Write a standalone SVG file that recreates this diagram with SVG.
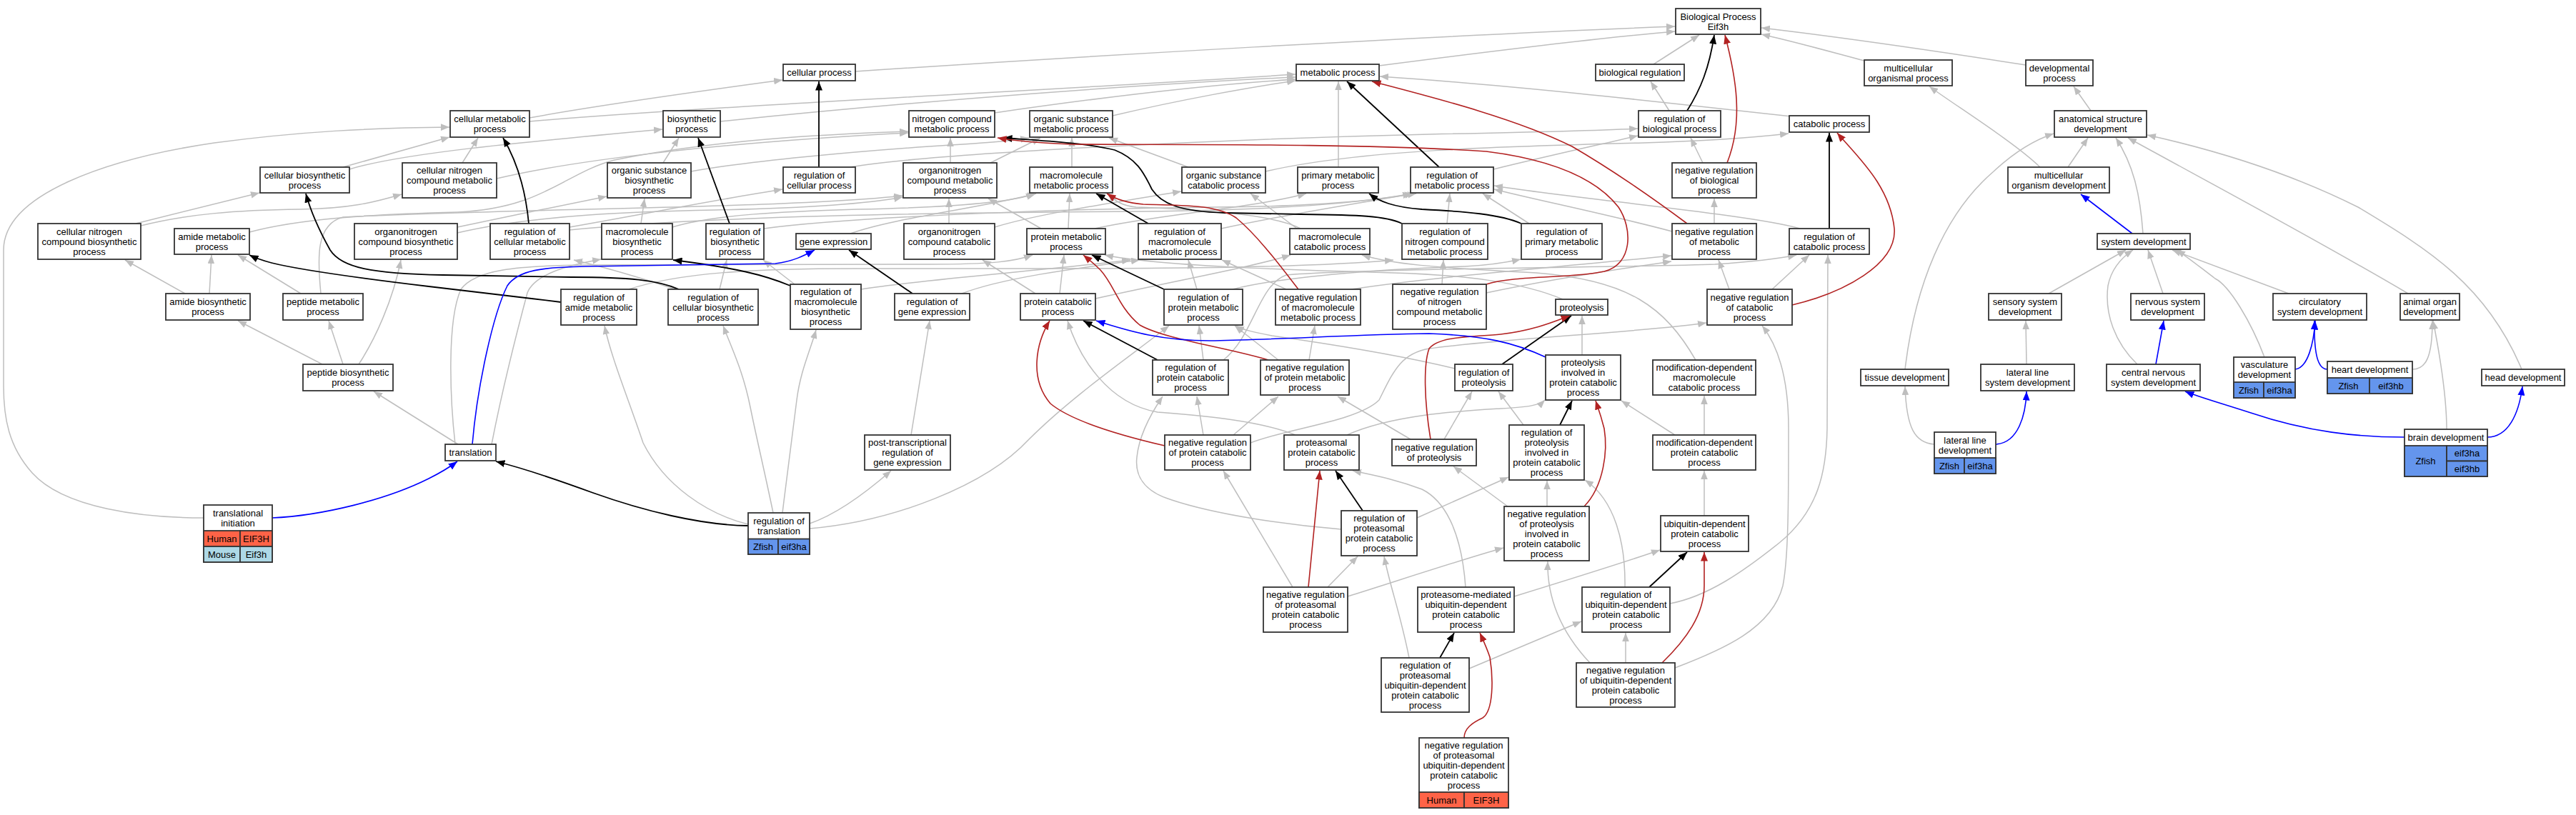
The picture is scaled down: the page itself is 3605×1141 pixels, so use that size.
<svg xmlns="http://www.w3.org/2000/svg" width="3605" height="1141" viewBox="0 0 3605 1141">
<style>
.n rect{fill:#fff;stroke:#333;stroke-width:1.8}
.n rect.hu{fill:#ff6347}
.n rect.mo{fill:#add8e6}
.n rect.zf{fill:#6495ed}
.n text{font-family:"Liberation Sans",Arial,sans-serif;font-size:13px;text-anchor:middle;fill:#000}
#edges path{fill:none}
#edges .g{stroke:#bebebe;stroke-width:1.5;marker-end:url(#ag)}
#edges .k{stroke:#000;stroke-width:1.8;marker-end:url(#ak)}
#edges .r{stroke:#b22222;stroke-width:1.6;marker-end:url(#ar)}
#edges .b{stroke:#0000ff;stroke-width:1.6;marker-end:url(#ab)}
</style>
<defs>
<marker id="ag" viewBox="0 0 10 8" refX="10" refY="4" markerWidth="12" markerHeight="9.6" markerUnits="userSpaceOnUse" orient="auto"><path d="M0,0L10,4L0,8z" fill="#bebebe"/></marker>
<marker id="ak" viewBox="0 0 10 8" refX="10" refY="4" markerWidth="12.5" markerHeight="10" markerUnits="userSpaceOnUse" orient="auto"><path d="M0,0L10,4L0,8z" fill="#000"/></marker>
<marker id="ar" viewBox="0 0 10 8" refX="10" refY="4" markerWidth="12.5" markerHeight="10" markerUnits="userSpaceOnUse" orient="auto"><path d="M0,0L10,4L0,8z" fill="#b22222"/></marker>
<marker id="ab" viewBox="0 0 10 8" refX="10" refY="4" markerWidth="12.5" markerHeight="10" markerUnits="userSpaceOnUse" orient="auto"><path d="M0,0L10,4L0,8z" fill="#0000ff"/></marker>
</defs>
<rect width="3605" height="1141" fill="#fff"/>
<g id="edges">
<path class="g" d="M285,725 C200,725 90,712 45,662 C12,625 5,585 5,540 L5,350 C5,272 150,222 300,200 C420,184 520,179 629,178"/>
<path class="g" d="M480,234 L629,192"/>
<path class="g" d="M489,237 C560,215 720,200 927,181"/>
<path class="g" d="M190,313 L363,270"/>
<path class="g" d="M197,316 C260,300 330,294 420,293 C490,292 525,283 562,272"/>
<path class="g" d="M259,411 L175,364"/>
<path class="g" d="M293,411 L296,357"/>
<path class="g" d="M421,411 L333,357"/>
<path class="g" d="M449,411 C444,360 442,314 480,304 C700,292 1100,292 1263,274"/>
<path class="g" d="M349,325 C420,306 520,300 640,297 C760,292 790,242 860,224 C1000,196 1150,188 1271,184"/>
<path class="g" d="M451,510 L333,449"/>
<path class="g" d="M480,510 L460,449"/>
<path class="g" d="M502,510 C525,475 550,420 561,364"/>
<path class="g" d="M641,622 L523,548"/>
<path class="g" d="M637,622 C630,560 625,450 645,405 C665,378 720,372 820,371 L1300,370 C1390,370 1420,366 1445,357"/>
<path class="g" d="M688,622 C700,560 722,470 738,410 C748,385 790,372 841,363"/>
<path class="g" d="M1047,734 C990,720 930,680 900,620 C880,560 855,500 846,456"/>
<path class="g" d="M1082,718 C1070,660 1058,610 1050,570 C1040,520 1025,490 1012,456"/>
<path class="g" d="M1095,718 C1102,660 1110,600 1115,560 C1120,520 1134,490 1142,462"/>
<path class="g" d="M1133,733 C1165,722 1200,700 1247,659"/>
<path class="g" d="M1133,740 C1250,730 1380,680 1440,615 C1500,555 1580,500 1636,456"/>
<path class="g" d="M1275,609 L1301,449"/>
<path class="g" d="M647,228 L669,193"/>
<path class="g" d="M695,250 C800,225 1000,200 1271,186"/>
<path class="g" d="M928,228 L950,193"/>
<path class="g" d="M967,240 C1050,225 1200,212 1300,205 C1380,200 1410,198 1440,193"/>
<path class="g" d="M640,318 C700,305 800,285 849,275"/>
<path class="g" d="M640,326 C750,300 900,296 1000,294 C1150,291 1220,284 1263,276"/>
<path class="g" d="M897,313 L902,278"/>
<path class="g" d="M941,318 C1000,300 1100,296 1200,293 C1350,290 1420,282 1448,271"/>
<path class="g" d="M797,318 C900,300 1000,280 1095,265"/>
<path class="g" d="M797,322 C1000,302 1300,298 1600,296 C1800,294 1900,284 1982,271"/>
<path class="g" d="M945,405 C900,390 850,375 803,364"/>
<path class="g" d="M1007,405 L1017,364"/>
<path class="g" d="M1112,398 L1068,364"/>
<path class="g" d="M1069,320 C1200,303 1500,292 1700,290 C1850,289 1930,280 1975,271"/>
<path class="g" d="M1190,327 C1250,305 1380,290 1450,271"/>
<path class="g" d="M880,405 C950,382 1050,376 1200,376 C1500,376 1800,378 1950,364"/>
<path class="g" d="M1205,405 C1300,390 1450,380 1582,364"/>
<path class="g" d="M1346,411 C1400,390 1500,376 1595,364"/>
<path class="g" d="M1190,234 C1300,215 1700,195 2000,188 C2150,185 2250,182 2292,180"/>
<path class="g" d="M1008,170 C1300,140 1600,118 1813,108"/>
<path class="g" d="M741,165 C850,145 1000,125 1095,112"/>
<path class="g" d="M741,170 C1000,148 1500,125 1813,104"/>
<path class="g" d="M1197,100 C1500,80 2000,50 2344,37"/>
<path class="g" d="M1930,92 C2100,70 2250,52 2344,44"/>
<path class="g" d="M1392,158 C1550,135 1700,118 1813,111"/>
<path class="g" d="M1557,162 C1650,140 1750,122 1813,113"/>
<path class="g" d="M1873,234 L1873,114"/>
<path class="g" d="M2507,163 C2300,140 2100,118 1931,107"/>
<path class="g" d="M2314,90 L2378,49"/>
<path class="g" d="M2609,85 C2560,72 2510,58 2465,48"/>
<path class="g" d="M2835,91 C2700,70 2560,50 2465,39"/>
<path class="g" d="M2336,155 L2310,114"/>
<path class="g" d="M2090,237 C2180,215 2250,200 2292,190"/>
<path class="g" d="M2383,228 L2366,193"/>
<path class="g" d="M2855,234 C2820,200 2740,150 2700,121"/>
<path class="g" d="M2926,155 L2902,121"/>
<path class="g" d="M2666,517 C2680,400 2720,300 2790,240 C2820,212 2850,195 2874,187"/>
<path class="g" d="M2894,234 L2922,193"/>
<path class="g" d="M2999,327 C2995,270 2985,230 2961,193"/>
<path class="g" d="M3370,411 C3250,340 3100,260 2978,193"/>
<path class="g" d="M3529,517 C3480,400 3400,350 3300,290 C3200,240 3100,210 3005,189"/>
<path class="g" d="M1771,240 C1900,210 2100,205 2300,200 C2400,197 2450,193 2503,187"/>
<path class="g" d="M1330,228 L1330,193"/>
<path class="g" d="M1386,228 L1456,193"/>
<path class="g" d="M1500,234 L1500,193"/>
<path class="g" d="M1663,234 L1552,193"/>
<path class="g" d="M1328,313 L1328,278"/>
<path class="g" d="M1457,320 L1383,278"/>
<path class="g" d="M1495,320 L1497,271"/>
<path class="g" d="M1392,318 C1450,300 1550,285 1653,268"/>
<path class="g" d="M1815,320 L1750,271"/>
<path class="g" d="M1820,320 C1780,298 1650,292 1590,290 C1570,288 1558,280 1552,271"/>
<path class="g" d="M1532,320 C1620,300 1750,292 1828,271"/>
<path class="g" d="M1449,411 L1375,364"/>
<path class="g" d="M1483,411 L1489,357"/>
<path class="g" d="M1533,418 C1650,392 1760,372 1806,357"/>
<path class="g" d="M1675,405 L1663,364"/>
<path class="g" d="M1725,405 C1800,386 1950,376 2050,373 C2090,371 2110,367 2128,363"/>
<path class="g" d="M1709,320 C1800,300 1900,285 1978,271"/>
<path class="g" d="M2025,313 L2029,271"/>
<path class="g" d="M2140,313 L2075,271"/>
<path class="g" d="M2340,324 C2250,300 2150,280 2091,265"/>
<path class="g" d="M2399,313 L2399,278"/>
<path class="g" d="M2519,320 C2450,300 2200,278 2091,260"/>
<path class="g" d="M2420,405 L2405,364"/>
<path class="g" d="M2480,405 L2532,357"/>
<path class="g" d="M1800,405 L1710,364"/>
<path class="g" d="M1891,405 C2000,388 2200,372 2339,358"/>
<path class="g" d="M2018,398 L2020,364"/>
<path class="g" d="M2080,410 C2200,385 2300,372 2339,366"/>
<path class="g" d="M1789,504 L1728,456"/>
<path class="g" d="M1832,504 L1840,456"/>
<path class="g" d="M1684,504 L1678,456"/>
<path class="g" d="M1712,504 C1755,470 1760,400 1800,385 C1900,376 2300,374 2400,370 C2460,366 2490,362 2514,357"/>
<path class="g" d="M1684,609 L1675,555"/>
<path class="g" d="M1726,609 L1789,555"/>
<path class="g" d="M1750,620 C1800,600 1900,590 1930,560 C1950,520 1960,495 2000,488 C2100,474 2300,465 2388,452"/>
<path class="g" d="M2036,516 C1950,495 1850,480 1780,470 C1755,465 1740,462 1729,456"/>
<path class="g" d="M2021,615 L2060,548"/>
<path class="g" d="M2132,595 L2097,548"/>
<path class="g" d="M2214,497 L2214,442"/>
<path class="g" d="M2187,419 C2130,395 2050,385 1950,382 C1800,378 1620,372 1546,357"/>
<path class="g" d="M1983,725 L2111,668"/>
<path class="g" d="M1877,741 C1800,735 1700,720 1640,700 C1600,688 1588,665 1591,640 C1594,610 1610,580 1627,555"/>
<path class="g" d="M2165,709 L2165,673"/>
<path class="g" d="M2110,709 L2034,653"/>
<path class="g" d="M1858,822 L1900,779"/>
<path class="g" d="M1886,835 C1950,815 2050,782 2104,767"/>
<path class="g" d="M1809,822 L1712,659"/>
<path class="g" d="M2051,822 C2045,740 2020,700 1990,685 C1950,670 1920,665 1893,659"/>
<path class="g" d="M2119,835 C2200,810 2280,785 2323,770"/>
<path class="g" d="M1972,921 C1960,860 1945,820 1937,779"/>
<path class="g" d="M2056,936 L2213,870"/>
<path class="g" d="M2274,822 C2275,760 2260,700 2218,672"/>
<path class="g" d="M2337,845 C2390,835 2440,800 2490,760 C2545,715 2556,660 2557,600 L2558,357"/>
<path class="g" d="M2275,928 L2275,886"/>
<path class="g" d="M2225,928 C2180,880 2165,830 2166,786"/>
<path class="g" d="M2344,935 C2410,910 2480,880 2495,820 C2503,780 2503,700 2503,600 C2503,520 2485,480 2466,456"/>
<path class="g" d="M2385,722 L2385,659"/>
<path class="g" d="M2385,609 L2385,554"/>
<path class="g" d="M2344,609 L2269,561"/>
<path class="g" d="M2373,504 C2330,430 2280,392 2150,382 C2000,374 1950,370 1906,357"/>
<path class="g" d="M1813,609 C1760,588 1680,582 1620,577 C1550,565 1510,500 1494,449"/>
<path class="g" d="M1885,609 C1950,580 2050,575 2100,572 C2140,570 2155,567 2162,560"/>
<path class="g" d="M1974,615 L1872,555"/>
<path class="g" d="M2867,411 L2975,350"/>
<path class="g" d="M2836,510 L2835,449"/>
<path class="g" d="M3027,411 L3006,350"/>
<path class="g" d="M2991,510 C2960,480 2945,440 2950,400 C2955,375 2970,360 2985,350"/>
<path class="g" d="M3203,411 L3040,350"/>
<path class="g" d="M3169,500 C3150,450 3120,400 3100,390 C3080,375 3062,360 3046,350"/>
<path class="g" d="M2707,622 C2680,620 2668,600 2666,541"/>
<path class="g" d="M3424,601 C3424,560 3415,500 3405,449"/>
<path class="g" d="M3376,517 C3395,517 3404,500 3404,449"/>
<path class="k" d="M2361,155 C2380,125 2392,95 2399,49"/>
<path class="k" d="M1146,234 L1146,114"/>
<path class="k" d="M740,313 C735,260 720,220 704,193"/>
<path class="k" d="M1021,313 L977,193"/>
<path class="k" d="M2014,234 L1885,114"/>
<path class="k" d="M2560,320 L2560,186"/>
<path class="k" d="M1962,313 C1940,302 1900,301 1820,300 L1714,298 C1650,296 1625,285 1612,265 C1600,240 1590,222 1560,210 C1520,200 1460,197 1404,193"/>
<path class="k" d="M2129,313 C2100,300 2050,296 1990,293 C1950,290 1930,282 1916,271"/>
<path class="k" d="M1607,313 L1534,271"/>
<path class="k" d="M1629,405 L1528,357"/>
<path class="k" d="M1620,504 L1516,449"/>
<path class="k" d="M1277,411 L1188,350"/>
<path class="k" d="M1106,400 C1070,385 1030,375 942,364"/>
<path class="k" d="M950,405 C920,392 880,388 800,388 L620,385 C520,383 478,375 462,350 C448,325 436,300 428,271"/>
<path class="k" d="M785,423 C720,415 650,407 600,401 C500,389 420,378 380,368 C365,364 355,360 349,357"/>
<path class="k" d="M1047,736 C980,735 900,715 830,690 C770,668 730,655 694,646"/>
<path class="k" d="M2102,510 L2199,442"/>
<path class="k" d="M2183,595 L2200,561"/>
<path class="k" d="M1907,715 L1869,659"/>
<path class="k" d="M2015,921 L2035,886"/>
<path class="k" d="M2308,822 L2361,773"/>
<path class="r" d="M2417,228 C2440,170 2430,110 2414,49"/>
<path class="r" d="M2361,313 C2310,275 2260,240 2200,205 C2120,165 2000,135 1920,114"/>
<path class="r" d="M2508,427 C2580,410 2655,370 2651,320 C2645,260 2600,220 2571,186"/>
<path class="r" d="M2080,398 C2120,385 2200,390 2245,380 C2285,370 2285,320 2265,290 C2230,245 2160,222 2080,212 C1900,200 1600,203 1500,202 C1450,200 1420,197 1396,193"/>
<path class="r" d="M1817,405 C1790,370 1760,330 1730,305 C1700,285 1650,288 1600,286 C1575,284 1560,278 1549,271"/>
<path class="r" d="M1775,504 C1720,487 1630,475 1595,455 C1565,430 1560,400 1540,378 C1530,368 1522,362 1516,357"/>
<path class="r" d="M1630,624 C1570,610 1500,590 1470,565 C1440,530 1450,480 1469,449"/>
<path class="r" d="M2002,615 C1993,560 1992,510 2000,488 C2015,470 2060,472 2100,468 C2150,462 2180,448 2197,442"/>
<path class="r" d="M2217,709 C2245,680 2250,630 2245,600 C2240,580 2236,570 2233,561"/>
<path class="r" d="M1831,822 L1847,659"/>
<path class="r" d="M2049,1033 C2049,1020 2060,1012 2075,1005 C2090,995 2090,950 2085,920 C2080,905 2075,895 2071,886"/>
<path class="r" d="M2326,928 C2360,895 2385,860 2385,820 L2385,773"/>
<path class="b" d="M381,725 C450,722 540,700 600,670 C620,660 632,652 640,646"/>
<path class="b" d="M661,622 C668,540 690,440 710,400 C725,378 760,374 820,373 L1085,369 C1110,366 1125,358 1140,350"/>
<path class="b" d="M2163,500 C2120,480 2080,470 2000,467 C1900,468 1800,475 1700,477 C1620,478 1570,460 1534,449"/>
<path class="b" d="M2984,327 L2912,272"/>
<path class="b" d="M3017,510 L3028,449"/>
<path class="b" d="M2793,622 C2825,620 2835,580 2836,548"/>
<path class="b" d="M3365,612 C3300,612 3230,605 3150,578 C3100,562 3075,555 3058,548"/>
<path class="b" d="M3481,612 C3510,612 3525,580 3530,541"/>
<path class="b" d="M3212,517 C3230,515 3238,480 3240,449"/>
<path class="b" d="M3257,517 C3245,517 3238,500 3239,449"/>
</g>
<g id="n1" class="n"><rect x="2345" y="12" width="119" height="36"/><text x="2404.5" y="27.5">Biological Process</text><text x="2404.5" y="41.5">Eif3h</text></g>
<g id="n2" class="n"><rect x="1096" y="90" width="101" height="23"/><text x="1146.5" y="106">cellular process</text></g>
<g id="n3" class="n"><rect x="1814" y="90" width="116" height="23"/><text x="1872" y="106">metabolic process</text></g>
<g id="n4" class="n"><rect x="2233" y="90" width="124" height="23"/><text x="2295" y="106">biological regulation</text></g>
<g id="n5" class="n"><rect x="2609" y="84" width="123" height="36"/><text x="2670.5" y="99.5">multicellular</text><text x="2670.5" y="113.5">organismal process</text></g>
<g id="n6" class="n"><rect x="2835" y="84" width="94" height="36"/><text x="2882" y="99.5">developmental</text><text x="2882" y="113.5">process</text></g>
<g id="n7" class="n"><rect x="630" y="155" width="111" height="37"/><text x="685.5" y="171">cellular metabolic</text><text x="685.5" y="185">process</text></g>
<g id="n8" class="n"><rect x="928" y="155" width="80" height="37"/><text x="968" y="171">biosynthetic</text><text x="968" y="185">process</text></g>
<g id="n9" class="n"><rect x="1272" y="155" width="120" height="37"/><text x="1332" y="171">nitrogen compound</text><text x="1332" y="185">metabolic process</text></g>
<g id="n10" class="n"><rect x="1441" y="155" width="116" height="37"/><text x="1499" y="171">organic substance</text><text x="1499" y="185">metabolic process</text></g>
<g id="n11" class="n"><rect x="2293" y="155" width="115" height="37"/><text x="2350.5" y="171">regulation of</text><text x="2350.5" y="185">biological process</text></g>
<g id="n12" class="n"><rect x="2504" y="162" width="112" height="23"/><text x="2560" y="178">catabolic process</text></g>
<g id="n13" class="n"><rect x="2875" y="155" width="129" height="37"/><text x="2939.5" y="171">anatomical structure</text><text x="2939.5" y="185">development</text></g>
<g id="n14" class="n"><rect x="364" y="234" width="125" height="36"/><text x="426.5" y="249.5">cellular biosynthetic</text><text x="426.5" y="263.5">process</text></g>
<g id="n15" class="n"><rect x="563" y="228" width="132" height="49"/><text x="629" y="243">cellular nitrogen</text><text x="629" y="257">compound metabolic</text><text x="629" y="271">process</text></g>
<g id="n16" class="n"><rect x="850" y="228" width="117" height="49"/><text x="908.5" y="243">organic substance</text><text x="908.5" y="257">biosynthetic</text><text x="908.5" y="271">process</text></g>
<g id="n17" class="n"><rect x="1096" y="234" width="101" height="36"/><text x="1146.5" y="249.5">regulation of</text><text x="1146.5" y="263.5">cellular process</text></g>
<g id="n18" class="n"><rect x="1264" y="228" width="131" height="49"/><text x="1329.5" y="243">organonitrogen</text><text x="1329.5" y="257">compound metabolic</text><text x="1329.5" y="271">process</text></g>
<g id="n19" class="n"><rect x="1441" y="234" width="116" height="36"/><text x="1499" y="249.5">macromolecule</text><text x="1499" y="263.5">metabolic process</text></g>
<g id="n20" class="n"><rect x="1654" y="234" width="117" height="36"/><text x="1712.5" y="249.5">organic substance</text><text x="1712.5" y="263.5">catabolic process</text></g>
<g id="n21" class="n"><rect x="1816" y="234" width="113" height="36"/><text x="1872.5" y="249.5">primary metabolic</text><text x="1872.5" y="263.5">process</text></g>
<g id="n22" class="n"><rect x="1974" y="234" width="116" height="36"/><text x="2032" y="249.5">regulation of</text><text x="2032" y="263.5">metabolic process</text></g>
<g id="n23" class="n"><rect x="2340" y="228" width="118" height="49"/><text x="2399" y="243">negative regulation</text><text x="2399" y="257">of biological</text><text x="2399" y="271">process</text></g>
<g id="n24" class="n"><rect x="2810" y="234" width="142" height="36"/><text x="2881" y="249.5">multicellular</text><text x="2881" y="263.5">organism development</text></g>
<g id="n25" class="n"><rect x="53" y="313" width="144" height="50"/><text x="125" y="328.5">cellular nitrogen</text><text x="125" y="342.5">compound biosynthetic</text><text x="125" y="356.5">process</text></g>
<g id="n26" class="n"><rect x="244" y="320" width="105" height="36"/><text x="296.5" y="335.5">amide metabolic</text><text x="296.5" y="349.5">process</text></g>
<g id="n27" class="n"><rect x="496" y="313" width="144" height="50"/><text x="568" y="328.5">organonitrogen</text><text x="568" y="342.5">compound biosynthetic</text><text x="568" y="356.5">process</text></g>
<g id="n28" class="n"><rect x="686" y="313" width="111" height="50"/><text x="741.5" y="328.5">regulation of</text><text x="741.5" y="342.5">cellular metabolic</text><text x="741.5" y="356.5">process</text></g>
<g id="n29" class="n"><rect x="842" y="313" width="99" height="50"/><text x="891.5" y="328.5">macromolecule</text><text x="891.5" y="342.5">biosynthetic</text><text x="891.5" y="356.5">process</text></g>
<g id="n30" class="n"><rect x="988" y="313" width="81" height="50"/><text x="1028.5" y="328.5">regulation of</text><text x="1028.5" y="342.5">biosynthetic</text><text x="1028.5" y="356.5">process</text></g>
<g id="n31" class="n"><rect x="1114" y="327" width="105" height="22"/><text x="1166.5" y="342.5">gene expression</text></g>
<g id="n32" class="n"><rect x="1265" y="313" width="127" height="50"/><text x="1328.5" y="328.5">organonitrogen</text><text x="1328.5" y="342.5">compound catabolic</text><text x="1328.5" y="356.5">process</text></g>
<g id="n33" class="n"><rect x="1437" y="320" width="110" height="36"/><text x="1492" y="335.5">protein metabolic</text><text x="1492" y="349.5">process</text></g>
<g id="n34" class="n"><rect x="1593" y="313" width="116" height="50"/><text x="1651" y="328.5">regulation of</text><text x="1651" y="342.5">macromolecule</text><text x="1651" y="356.5">metabolic process</text></g>
<g id="n35" class="n"><rect x="1805" y="320" width="112" height="36"/><text x="1861" y="335.5">macromolecule</text><text x="1861" y="349.5">catabolic process</text></g>
<g id="n36" class="n"><rect x="1962" y="313" width="120" height="50"/><text x="2022" y="328.5">regulation of</text><text x="2022" y="342.5">nitrogen compound</text><text x="2022" y="356.5">metabolic process</text></g>
<g id="n37" class="n"><rect x="2129" y="313" width="113" height="50"/><text x="2185.5" y="328.5">regulation of</text><text x="2185.5" y="342.5">primary metabolic</text><text x="2185.5" y="356.5">process</text></g>
<g id="n38" class="n"><rect x="2340" y="313" width="118" height="50"/><text x="2399" y="328.5">negative regulation</text><text x="2399" y="342.5">of metabolic</text><text x="2399" y="356.5">process</text></g>
<g id="n39" class="n"><rect x="2504" y="320" width="112" height="36"/><text x="2560" y="335.5">regulation of</text><text x="2560" y="349.5">catabolic process</text></g>
<g id="n40" class="n"><rect x="2935" y="327" width="130" height="22"/><text x="3000" y="342.5">system development</text></g>
<g id="n41" class="n"><rect x="232" y="411" width="118" height="37"/><text x="291" y="427">amide biosynthetic</text><text x="291" y="441">process</text></g>
<g id="n42" class="n"><rect x="396" y="411" width="112" height="37"/><text x="452" y="427">peptide metabolic</text><text x="452" y="441">process</text></g>
<g id="n43" class="n"><rect x="785" y="405" width="106" height="50"/><text x="838" y="420.5">regulation of</text><text x="838" y="434.5">amide metabolic</text><text x="838" y="448.5">process</text></g>
<g id="n44" class="n"><rect x="935" y="405" width="126" height="50"/><text x="998" y="420.5">regulation of</text><text x="998" y="434.5">cellular biosynthetic</text><text x="998" y="448.5">process</text></g>
<g id="n45" class="n"><rect x="1106" y="398" width="99" height="63"/><text x="1155.5" y="413">regulation of</text><text x="1155.5" y="427">macromolecule</text><text x="1155.5" y="441">biosynthetic</text><text x="1155.5" y="455">process</text></g>
<g id="n46" class="n"><rect x="1252" y="411" width="105" height="37"/><text x="1304.5" y="427">regulation of</text><text x="1304.5" y="441">gene expression</text></g>
<g id="n47" class="n"><rect x="1428" y="411" width="105" height="37"/><text x="1480.5" y="427">protein catabolic</text><text x="1480.5" y="441">process</text></g>
<g id="n48" class="n"><rect x="1629" y="405" width="110" height="50"/><text x="1684" y="420.5">regulation of</text><text x="1684" y="434.5">protein metabolic</text><text x="1684" y="448.5">process</text></g>
<g id="n49" class="n"><rect x="1785" y="405" width="119" height="50"/><text x="1844.5" y="420.5">negative regulation</text><text x="1844.5" y="434.5">of macromolecule</text><text x="1844.5" y="448.5">metabolic process</text></g>
<g id="n50" class="n"><rect x="1949" y="398" width="131" height="63"/><text x="2014.5" y="413">negative regulation</text><text x="2014.5" y="427">of nitrogen</text><text x="2014.5" y="441">compound metabolic</text><text x="2014.5" y="455">process</text></g>
<g id="n51" class="n"><rect x="2177" y="419" width="73" height="22"/><text x="2213.5" y="434.5">proteolysis</text></g>
<g id="n52" class="n"><rect x="2389" y="405" width="119" height="50"/><text x="2448.5" y="420.5">negative regulation</text><text x="2448.5" y="434.5">of catabolic</text><text x="2448.5" y="448.5">process</text></g>
<g id="n53" class="n"><rect x="2783" y="411" width="102" height="37"/><text x="2834" y="427">sensory system</text><text x="2834" y="441">development</text></g>
<g id="n54" class="n"><rect x="2982" y="411" width="103" height="37"/><text x="3033.5" y="427">nervous system</text><text x="3033.5" y="441">development</text></g>
<g id="n55" class="n"><rect x="3181" y="411" width="131" height="37"/><text x="3246.5" y="427">circulatory</text><text x="3246.5" y="441">system development</text></g>
<g id="n56" class="n"><rect x="3359" y="411" width="83" height="37"/><text x="3400.5" y="427">animal organ</text><text x="3400.5" y="441">development</text></g>
<g id="n57" class="n"><rect x="424" y="510" width="126" height="37"/><text x="487" y="526">peptide biosynthetic</text><text x="487" y="540">process</text></g>
<g id="n58" class="n"><rect x="1613" y="504" width="106" height="49"/><text x="1666" y="519">regulation of</text><text x="1666" y="533">protein catabolic</text><text x="1666" y="547">process</text></g>
<g id="n59" class="n"><rect x="1764" y="504" width="124" height="49"/><text x="1826" y="519">negative regulation</text><text x="1826" y="533">of protein metabolic</text><text x="1826" y="547">process</text></g>
<g id="n60" class="n"><rect x="2036" y="510" width="81" height="37"/><text x="2076.5" y="526">regulation of</text><text x="2076.5" y="540">proteolysis</text></g>
<g id="n61" class="n"><rect x="2163" y="497" width="105" height="63"/><text x="2215.5" y="512">proteolysis</text><text x="2215.5" y="526">involved in</text><text x="2215.5" y="540">protein catabolic</text><text x="2215.5" y="554">process</text></g>
<g id="n62" class="n"><rect x="2313" y="504" width="144" height="49"/><text x="2385" y="519">modification-dependent</text><text x="2385" y="533">macromolecule</text><text x="2385" y="547">catabolic process</text></g>
<g id="n63" class="n"><rect x="2604" y="517" width="123" height="23"/><text x="2665.5" y="533">tissue development</text></g>
<g id="n64" class="n"><rect x="2772" y="510" width="131" height="37"/><text x="2837.5" y="526">lateral line</text><text x="2837.5" y="540">system development</text></g>
<g id="n65" class="n"><rect x="2948" y="510" width="131" height="37"/><text x="3013.5" y="526">central nervous</text><text x="3013.5" y="540">system development</text></g>
<g id="n66" class="n"><rect x="3126" y="500" width="86" height="57"/><text x="3169" y="515">vasculature</text><text x="3169" y="529">development</text><rect class="zf" x="3126" y="535" width="42" height="22"/><rect class="zf" x="3168" y="535" width="44" height="22"/><text x="3147" y="550.5">Zfish</text><text x="3190" y="550.5">eif3ha</text></g>
<g id="n67" class="n"><rect x="3257" y="506" width="119" height="45"/><text x="3316.5" y="522">heart development</text><rect class="zf" x="3257" y="529" width="59" height="22"/><rect class="zf" x="3316" y="529" width="60" height="22"/><text x="3286.5" y="544.5">Zfish</text><text x="3346" y="544.5">eif3hb</text></g>
<g id="n68" class="n"><rect x="3473" y="517" width="116" height="23"/><text x="3531" y="533">head development</text></g>
<g id="n69" class="n"><rect x="623" y="622" width="71" height="23"/><text x="658.5" y="638">translation</text></g>
<g id="n70" class="n"><rect x="1210" y="609" width="120" height="49"/><text x="1270" y="624">post-transcriptional</text><text x="1270" y="638">regulation of</text><text x="1270" y="652">gene expression</text></g>
<g id="n71" class="n"><rect x="1630" y="609" width="120" height="49"/><text x="1690" y="624">negative regulation</text><text x="1690" y="638">of protein catabolic</text><text x="1690" y="652">process</text></g>
<g id="n72" class="n"><rect x="1797" y="609" width="105" height="49"/><text x="1849.5" y="624">proteasomal</text><text x="1849.5" y="638">protein catabolic</text><text x="1849.5" y="652">process</text></g>
<g id="n73" class="n"><rect x="1948" y="615" width="118" height="37"/><text x="2007" y="631">negative regulation</text><text x="2007" y="645">of proteolysis</text></g>
<g id="n74" class="n"><rect x="2112" y="595" width="105" height="77"/><text x="2164.5" y="610">regulation of</text><text x="2164.5" y="624">proteolysis</text><text x="2164.5" y="638">involved in</text><text x="2164.5" y="652">protein catabolic</text><text x="2164.5" y="666">process</text></g>
<g id="n75" class="n"><rect x="2313" y="609" width="144" height="49"/><text x="2385" y="624">modification-dependent</text><text x="2385" y="638">protein catabolic</text><text x="2385" y="652">process</text></g>
<g id="n76" class="n"><rect x="2707" y="605" width="86" height="58"/><text x="2750" y="620.5">lateral line</text><text x="2750" y="634.5">development</text><rect class="zf" x="2707" y="641" width="42" height="22"/><rect class="zf" x="2749" y="641" width="44" height="22"/><text x="2728" y="656.5">Zfish</text><text x="2771" y="656.5">eif3ha</text></g>
<g id="n77" class="n"><rect x="3365" y="601" width="116" height="66"/><text x="3423" y="617">brain development</text><rect class="zf" x="3365" y="624" width="59" height="43"/><rect class="zf" x="3424" y="624" width="57" height="21.5"/><rect class="zf" x="3424" y="645.5" width="57" height="21.5"/><text x="3394.5" y="650">Zfish</text><text x="3452.5" y="639">eif3ha</text><text x="3452.5" y="660.5">eif3hb</text></g>
<g id="n78" class="n"><rect x="285" y="707" width="96" height="80"/><text x="333" y="722.5">translational</text><text x="333" y="736.5">initiation</text><rect class="hu" x="285" y="743" width="51" height="22"/><rect class="hu" x="336" y="743" width="45" height="22"/><rect class="mo" x="285" y="765" width="51" height="22"/><rect class="mo" x="336" y="765" width="45" height="22"/><text x="310.5" y="758.5">Human</text><text x="358.5" y="758.5">EIF3H</text><text x="310.5" y="780.5">Mouse</text><text x="358.5" y="780.5">Eif3h</text></g>
<g id="n79" class="n"><rect x="1047" y="718" width="86" height="58"/><text x="1090" y="733.5">regulation of</text><text x="1090" y="747.5">translation</text><rect class="zf" x="1047" y="754.5" width="42" height="21.5"/><rect class="zf" x="1089" y="754.5" width="44" height="21.5"/><text x="1068" y="769.5">Zfish</text><text x="1111" y="769.5">eif3ha</text></g>
<g id="n80" class="n"><rect x="1877" y="715" width="106" height="63"/><text x="1930" y="730">regulation of</text><text x="1930" y="744">proteasomal</text><text x="1930" y="758">protein catabolic</text><text x="1930" y="772">process</text></g>
<g id="n81" class="n"><rect x="2105" y="709" width="119" height="76"/><text x="2164.5" y="723.5">negative regulation</text><text x="2164.5" y="737.5">of proteolysis</text><text x="2164.5" y="751.5">involved in</text><text x="2164.5" y="765.5">protein catabolic</text><text x="2164.5" y="779.5">process</text></g>
<g id="n82" class="n"><rect x="2324" y="722" width="123" height="50"/><text x="2385.5" y="737.5">ubiquitin-dependent</text><text x="2385.5" y="751.5">protein catabolic</text><text x="2385.5" y="765.5">process</text></g>
<g id="n83" class="n"><rect x="1768" y="822" width="118" height="63"/><text x="1827" y="837">negative regulation</text><text x="1827" y="851">of proteasomal</text><text x="1827" y="865">protein catabolic</text><text x="1827" y="879">process</text></g>
<g id="n84" class="n"><rect x="1984" y="822" width="135" height="63"/><text x="2051.5" y="837">proteasome-mediated</text><text x="2051.5" y="851">ubiquitin-dependent</text><text x="2051.5" y="865">protein catabolic</text><text x="2051.5" y="879">process</text></g>
<g id="n85" class="n"><rect x="2214" y="822" width="123" height="63"/><text x="2275.5" y="837">regulation of</text><text x="2275.5" y="851">ubiquitin-dependent</text><text x="2275.5" y="865">protein catabolic</text><text x="2275.5" y="879">process</text></g>
<g id="n86" class="n"><rect x="1933" y="921" width="123" height="76"/><text x="1994.5" y="935.5">regulation of</text><text x="1994.5" y="949.5">proteasomal</text><text x="1994.5" y="963.5">ubiquitin-dependent</text><text x="1994.5" y="977.5">protein catabolic</text><text x="1994.5" y="991.5">process</text></g>
<g id="n87" class="n"><rect x="2206" y="928" width="138" height="62"/><text x="2275" y="942.5">negative regulation</text><text x="2275" y="956.5">of ubiquitin-dependent</text><text x="2275" y="970.5">protein catabolic</text><text x="2275" y="984.5">process</text></g>
<g id="n88" class="n"><rect x="1986" y="1033" width="125" height="98"/><text x="2048.5" y="1047.5">negative regulation</text><text x="2048.5" y="1061.5">of proteasomal</text><text x="2048.5" y="1075.5">ubiquitin-dependent</text><text x="2048.5" y="1089.5">protein catabolic</text><text x="2048.5" y="1103.5">process</text><rect class="hu" x="1986" y="1109" width="63" height="22"/><rect class="hu" x="2049" y="1109" width="62" height="22"/><text x="2017.5" y="1124.5">Human</text><text x="2080" y="1124.5">EIF3H</text></g>
</svg>
